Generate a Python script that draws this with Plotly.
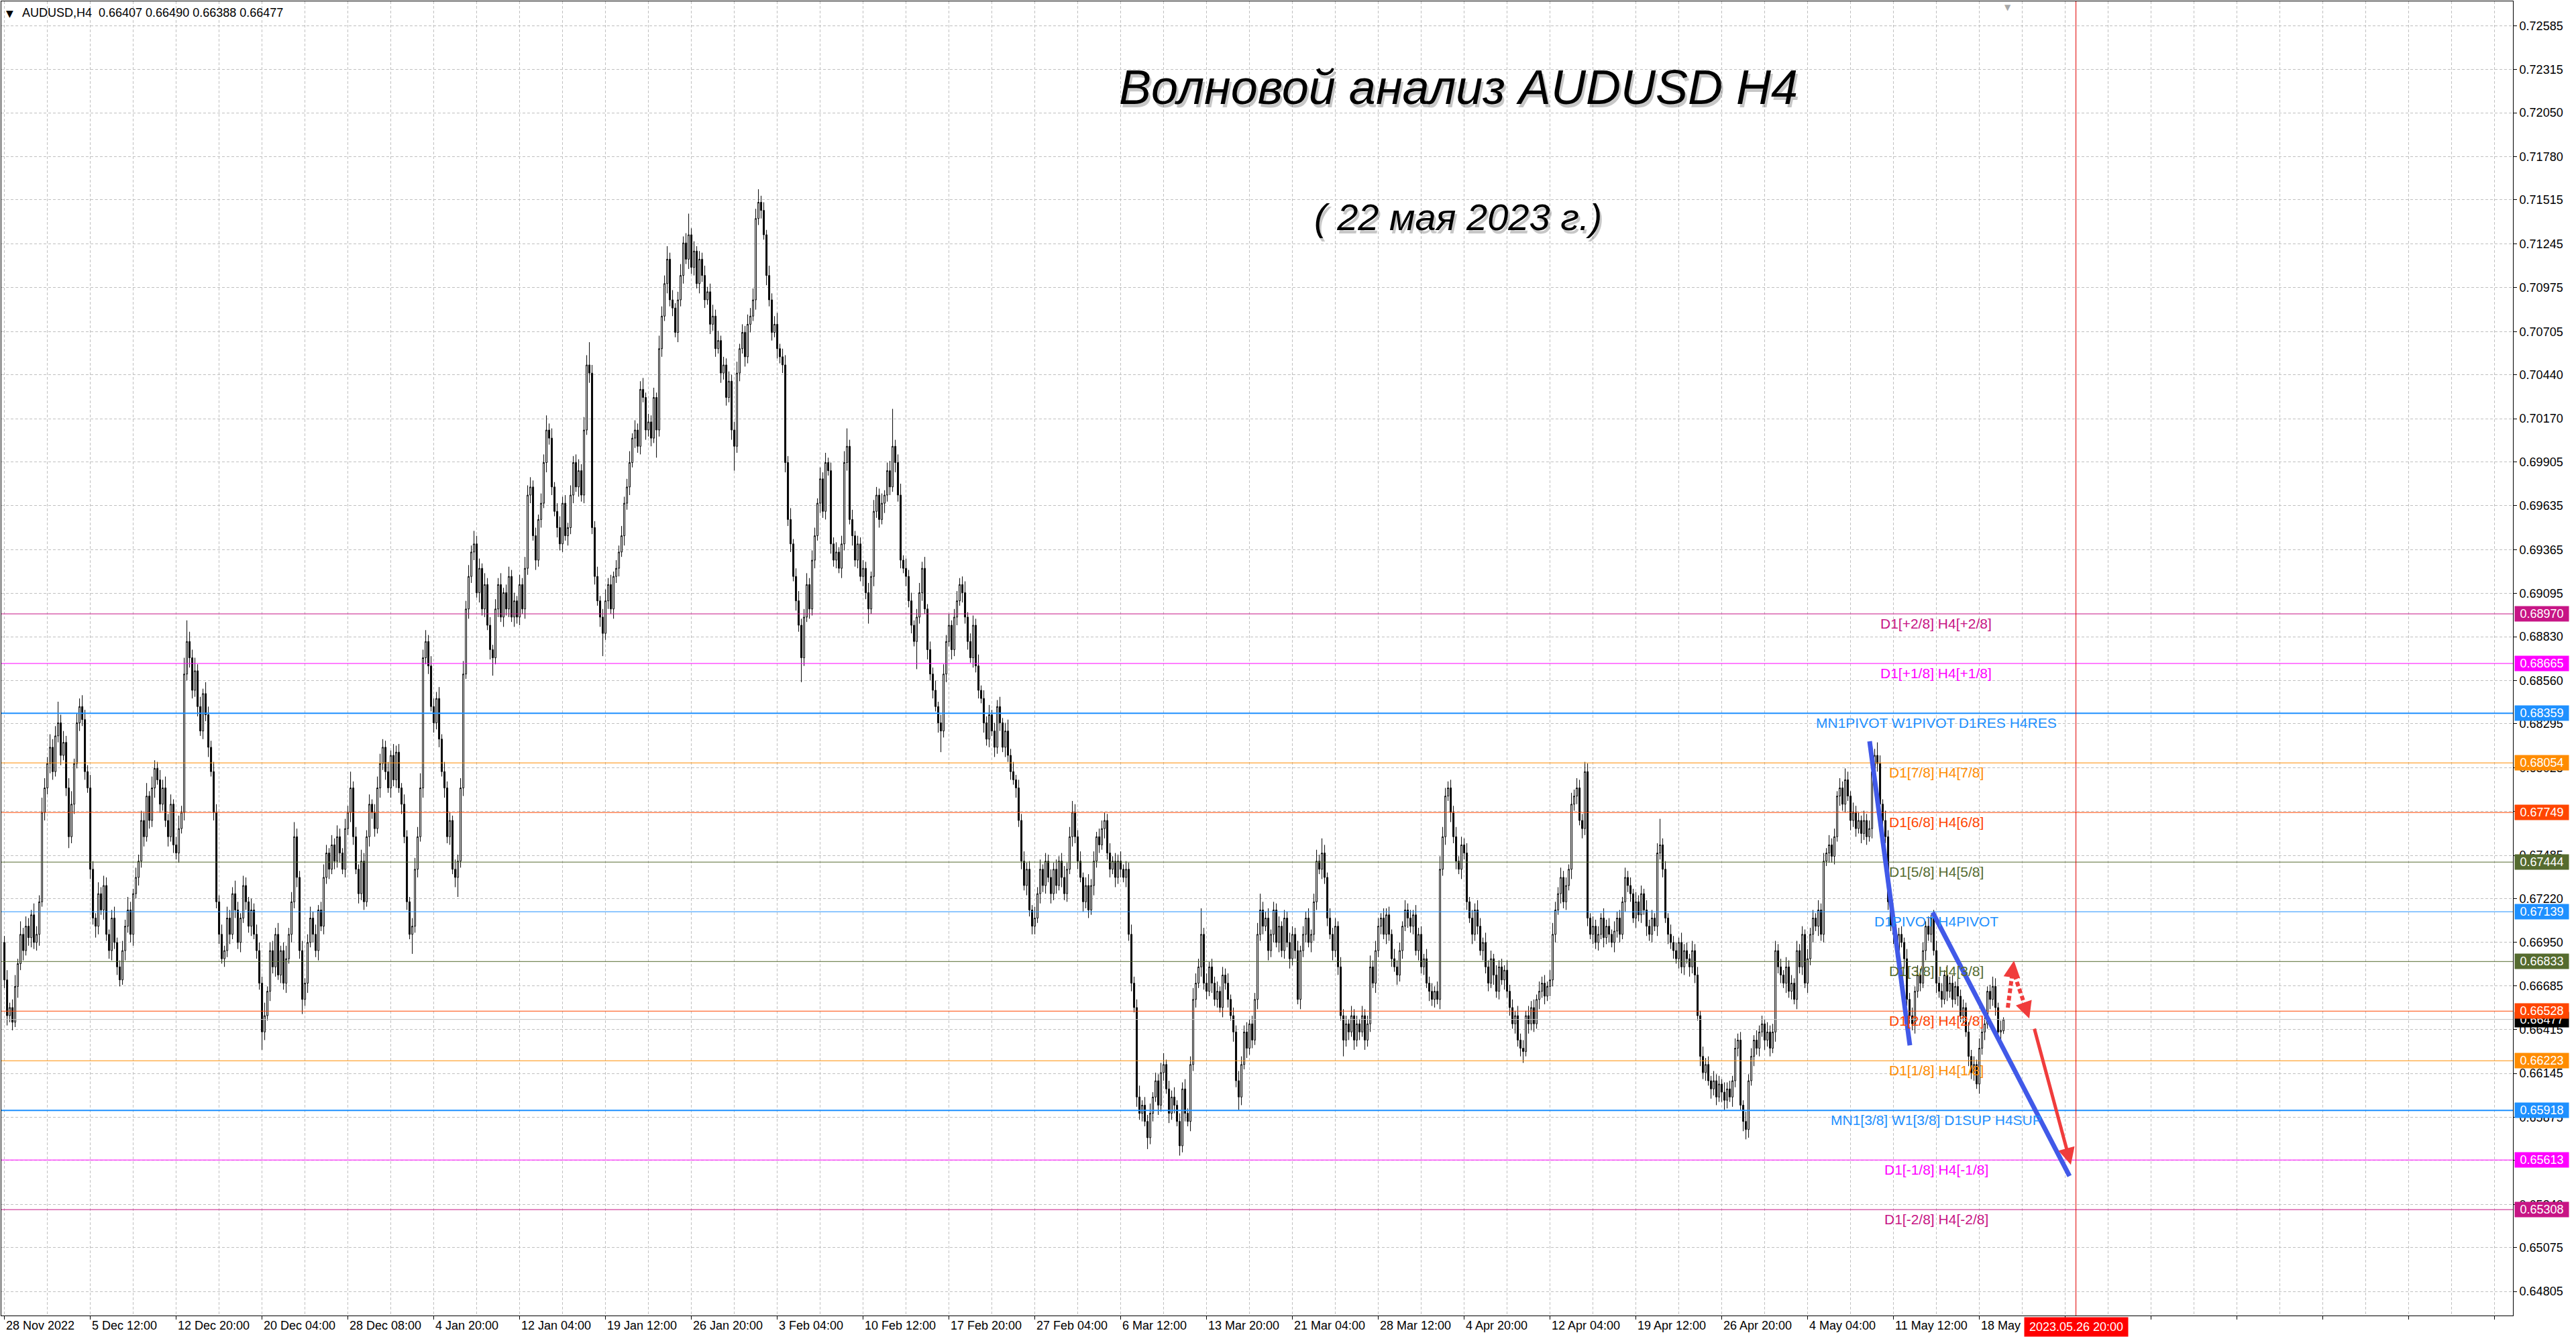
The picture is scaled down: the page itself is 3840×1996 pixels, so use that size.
import numpy as np
import plotly.graph_objects as go

# ---------------- data ----------------
symbol = "AUDUSD,H4"
last_bar_ohlc = [0.66407, 0.66490, 0.66388, 0.66477]
first_open_pips = 6695

close_pips = [
    6672, 6650, 6655, 6646, 6668, 6682, 6700, 6690, 6705, 6698,
    6712, 6695, 6700, 6720, 6775, 6790, 6805, 6815, 6800, 6822,
    6830, 6810, 6818, 6790, 6760, 6780, 6805, 6830, 6840, 6832,
    6800, 6790, 6740, 6710, 6705, 6725, 6715, 6730, 6700, 6690,
    6710, 6695, 6680, 6672, 6690, 6705, 6715, 6700, 6725, 6735,
    6745, 6770, 6760, 6785, 6770, 6790, 6802, 6795, 6780, 6790,
    6770, 6760, 6780, 6755, 6750, 6765, 6775, 6860, 6880, 6870,
    6850, 6862, 6840, 6825, 6848, 6835, 6815, 6800, 6775, 6720,
    6700, 6685, 6690, 6710, 6700, 6725, 6715, 6695, 6710, 6730,
    6720, 6705, 6715, 6700, 6690, 6670, 6640, 6650, 6665, 6690,
    6680, 6700, 6675, 6690, 6670, 6685, 6700, 6720, 6760, 6735,
    6690, 6660, 6670, 6695, 6710, 6700, 6690, 6715, 6705, 6735,
    6750, 6740, 6755, 6745, 6760, 6750, 6740, 6765, 6775, 6790,
    6760, 6740, 6725, 6745, 6720, 6760, 6780, 6775, 6765, 6790,
    6805, 6815, 6800, 6790, 6810, 6795, 6812, 6790, 6780, 6760,
    6720, 6700, 6705, 6740, 6760, 6790, 6870, 6880, 6865, 6840,
    6830, 6845, 6820, 6800, 6790, 6760, 6770, 6740, 6735, 6745,
    6790, 6860, 6900, 6920, 6935, 6940, 6910, 6925, 6900, 6915,
    6890, 6875, 6870, 6900, 6915, 6895, 6910, 6900, 6920, 6895,
    6905, 6895, 6915, 6900, 6925, 6970, 6975, 6945, 6930, 6955,
    6965, 6990, 7010, 7005, 6975, 6960, 6950, 6940, 6965, 6945,
    6950, 6970, 6990, 6975, 6985, 6970, 7010, 7050, 7045, 6950,
    6920, 6905, 6895, 6885, 6905, 6915, 6900, 6920, 6925, 6935,
    6945, 6965, 6975, 6990, 7005, 7010, 7000, 7035, 7030, 7010,
    7015, 7005, 7030, 7010, 7060, 7080, 7100, 7115, 7090, 7085,
    7070, 7090, 7105, 7125, 7115, 7130, 7110, 7120, 7100, 7115,
    7105, 7090, 7095, 7075, 7080, 7060, 7065, 7045, 7050, 7030,
    7040, 7010, 7000, 7045, 7060, 7070, 7055, 7075, 7080, 7090,
    7140, 7150, 7145, 7130, 7105, 7090, 7070, 7075, 7060, 7055,
    7050, 6990, 6955, 6940, 6920, 6905, 6890, 6870, 6895, 6915,
    6900, 6930, 6945, 6965, 6980, 6960, 6990, 6985, 6940, 6930,
    6935, 6925, 6940, 6990, 7000, 6955, 6945, 6930, 6940, 6920,
    6925, 6910, 6900, 6920, 6960, 6970, 6955, 6965, 6970, 6985,
    6975, 7000, 6990, 6970, 6930, 6925, 6920, 6905, 6890, 6880,
    6895, 6910, 6925, 6900, 6875, 6860, 6850, 6840, 6830, 6825,
    6860, 6880, 6890, 6875, 6895, 6905, 6915, 6910, 6895, 6880,
    6870, 6890, 6865, 6850, 6845, 6830, 6820, 6835, 6825, 6815,
    6840, 6830, 6815, 6825, 6810, 6800, 6795, 6790, 6770, 6745,
    6730, 6740, 6715, 6705, 6710, 6725, 6740, 6730, 6745, 6735,
    6725, 6740, 6730, 6745, 6735, 6725, 6740, 6760, 6775, 6760,
    6745, 6735, 6720, 6730, 6715, 6730, 6745, 6760, 6755, 6765,
    6770, 6750, 6740, 6745, 6735, 6745, 6740, 6735, 6740, 6700,
    6670, 6655, 6600, 6590, 6595, 6585, 6575, 6590, 6600, 6610,
    6595, 6615, 6620, 6605, 6590, 6600, 6595, 6585, 6570, 6605,
    6590, 6585, 6620, 6660, 6670, 6680, 6700, 6670, 6665, 6680,
    6670, 6660, 6665, 6655, 6675, 6670, 6660, 6650, 6640, 6610,
    6600, 6620, 6640, 6630, 6645, 6635, 6660, 6700, 6715, 6705,
    6710, 6690, 6700, 6715, 6695, 6705, 6690, 6710, 6695, 6685,
    6700, 6690, 6660, 6690, 6700, 6710, 6695, 6700, 6720, 6745,
    6740, 6750, 6735, 6710, 6700, 6690, 6705, 6680, 6650, 6635,
    6645, 6640, 6650, 6635, 6645, 6640, 6650, 6635, 6645, 6680,
    6670, 6690, 6705, 6710, 6700, 6712, 6700, 6685, 6680, 6675,
    6690, 6705, 6715, 6710, 6705, 6712, 6690, 6700, 6680, 6685,
    6670, 6665, 6660, 6665, 6660, 6740, 6760, 6785, 6790, 6775,
    6760, 6745, 6740, 6755, 6750, 6720, 6710, 6700, 6715, 6705,
    6690, 6695, 6680, 6670, 6685, 6675, 6665, 6680, 6672, 6678,
    6665, 6655, 6645, 6650, 6635, 6630, 6628, 6650, 6645, 6655,
    6645, 6660, 6665, 6670, 6662, 6668, 6672, 6700, 6715, 6725,
    6735, 6720, 6730, 6740, 6780, 6785, 6790, 6770, 6765, 6800,
    6710, 6700, 6705, 6695, 6700, 6710, 6698, 6705, 6700, 6695,
    6702, 6710, 6700, 6720, 6735, 6730, 6725, 6710, 6720, 6712,
    6725, 6715, 6705, 6700, 6710, 6705, 6750, 6755, 6740, 6710,
    6700, 6695, 6690, 6685, 6695, 6680, 6690, 6685, 6680, 6690,
    6675, 6650, 6625, 6615, 6620, 6610, 6605, 6610, 6600, 6608,
    6603, 6598, 6605, 6600, 6610, 6630, 6635, 6595, 6585, 6580,
    6610, 6625, 6635, 6630, 6640, 6645, 6635, 6640, 6630, 6640,
    6690, 6680, 6675, 6670, 6680, 6665, 6670, 6660, 6690, 6680,
    6700, 6670, 6685, 6700, 6710, 6705, 6715, 6700, 6745, 6750,
    6755, 6748, 6760, 6785, 6790, 6780, 6795, 6785, 6770, 6775,
    6765, 6770, 6762, 6770, 6760, 6765, 6800, 6810, 6805, 6780,
    6770, 6760, 6720, 6705, 6700, 6690, 6700, 6695, 6685, 6660,
    6650, 6645, 6665, 6675, 6670, 6690, 6705, 6700, 6710, 6690,
    6670, 6665, 6660, 6675, 6665, 6670, 6660, 6668, 6662, 6650,
    6655, 6640, 6625, 6615, 6620, 6608, 6630, 6640, 6645, 6665,
    6660, 6668, 6655, 6640, 6641,
]

upper_wick_pips = [
    4, 6, 3, 5, 7, 3, 8, 4, 6, 5,
    3, 7, 5, 4, 9, 6, 4, 8, 5, 6,
    13, 5, 7, 4, 6, 8, 3, 6, 5, 7,
    6, 4, 8, 5, 3, 7, 4, 6, 5, 3,
    5, 7, 3, 4, 6, 4, 8, 5, 3, 6,
    4, 6, 5, 8, 3, 7, 5, 4, 6, 5,
    7, 4, 6, 3, 5, 8, 4, 10, 13, 6,
    5, 8, 4, 6, 3, 7, 5, 4, 6, 5,
    4, 6, 3, 7, 5, 4, 8, 5, 3, 6,
    5, 3, 7, 4, 6, 5, 4, 8, 3, 5,
    6, 4, 7, 3, 5, 8, 4, 6, 9, 5,
    4, 6, 3, 5, 7, 4, 6, 3, 5, 8,
    5, 3, 6, 4, 7, 5, 3, 6, 4, 10,
    4, 6, 3, 7, 5, 4, 6, 3, 5, 7,
    6, 5, 4, 6, 3, 7, 4, 5, 3, 6,
    4, 3, 5, 7, 6, 9, 5, 7, 4, 6,
    5, 4, 7, 3, 6, 4, 5, 3, 6, 4,
    6, 8, 5, 7, 4, 8, 5, 6, 3, 7,
    4, 5, 3, 6, 4, 7, 3, 5, 6, 4,
    5, 3, 6, 4, 7, 6, 6, 4, 5, 3,
    6, 5, 9, 4, 6, 3, 5, 7, 4, 5,
    3, 6, 4, 5, 7, 4, 8, 6, 14, 5,
    4, 6, 3, 5, 7, 4, 6, 3, 5, 4,
    6, 4, 5, 7, 3, 6, 4, 5, 7, 3,
    5, 4, 6, 3, 8, 6, 5, 8, 4, 6,
    3, 5, 7, 4, 6, 13, 4, 6, 3, 5,
    4, 6, 3, 5, 7, 4, 6, 3, 5, 4,
    6, 4, 5, 7, 3, 5, 4, 6, 5, 7,
    6, 8, 4, 5, 3, 6, 4, 5, 7, 3,
    5, 6, 4, 7, 3, 5, 6, 4, 5, 7,
    4, 6, 5, 3, 7, 4, 6, 3, 5, 4,
    6, 3, 5, 7, 11, 4, 6, 3, 5, 4,
    5, 4, 6, 3, 7, 5, 4, 6, 3, 5,
    6, 23, 4, 5, 7, 3, 6, 4, 5, 3,
    5, 6, 4, 7, 3, 5, 4, 6, 3, 5,
    6, 4, 7, 3, 5, 6, 4, 5, 7, 3,
    5, 6, 4, 7, 3, 5, 4, 6, 3, 5,
    4, 6, 3, 5, 7, 4, 6, 3, 5, 4,
    6, 4, 5, 3, 7, 4, 6, 3, 5, 4,
    5, 4, 6, 3, 5, 7, 4, 6, 7, 5,
    4, 6, 3, 5, 7, 4, 6, 3, 5, 5,
    5, 4, 6, 3, 5, 4, 6, 3, 5, 4,
    6, 4, 5, 7, 3, 5, 4, 6, 3, 5,
    4, 6, 7, 3, 5, 4, 6, 3, 5, 4,
    6, 3, 5, 7, 6, 5, 16, 4, 6, 3,
    5, 4, 6, 3, 5, 4, 6, 3, 5, 4,
    6, 5, 4, 6, 3, 5, 4, 7, 10, 5,
    4, 6, 3, 5, 4, 6, 3, 5, 4, 6,
    5, 4, 6, 3, 5, 4, 6, 3, 5, 7,
    4, 9, 5, 3, 6, 4, 5, 3, 6, 4,
    5, 3, 6, 4, 5, 3, 6, 4, 5, 7,
    4, 6, 5, 3, 6, 4, 5, 3, 6, 4,
    5, 3, 6, 4, 5, 3, 6, 4, 5, 3,
    6, 4, 5, 3, 6, 8, 6, 5, 4, 5,
    4, 6, 3, 5, 4, 6, 3, 5, 4, 6,
    5, 3, 6, 4, 5, 3, 6, 4, 5, 3,
    6, 4, 5, 3, 6, 4, 5, 3, 6, 4,
    5, 3, 6, 4, 5, 3, 6, 7, 5, 4,
    6, 4, 5, 3, 7, 4, 6, 5, 4, 6,
    5, 3, 6, 4, 5, 3, 6, 4, 5, 3,
    6, 4, 5, 3, 6, 4, 5, 3, 6, 4,
    5, 3, 6, 4, 5, 3, 6, 16, 4, 5,
    3, 6, 4, 5, 3, 6, 4, 5, 3, 6,
    4, 5, 3, 6, 4, 5, 3, 6, 4, 5,
    3, 6, 4, 5, 3, 6, 4, 5, 3, 6,
    4, 5, 3, 6, 4, 5, 3, 6, 4, 5,
    6, 4, 5, 3, 6, 4, 5, 3, 6, 4,
    5, 3, 6, 4, 5, 3, 6, 4, 5, 3,
    6, 4, 5, 3, 6, 4, 7, 5, 3, 6,
    4, 5, 3, 6, 4, 5, 6, 4, 8, 5,
    3, 6, 4, 5, 3, 6, 4, 5, 3, 6,
    4, 5, 3, 6, 4, 5, 3, 6, 2, 5,
    6, 4, 5, 3, 6, 4, 5, 3, 6, 4,
    5, 3, 6, 4, 5, 3, 6, 4, 5, 3,
    4, 6, 5, 3, 6,
]

lower_wick_pips = [
    5, 6, 4, 5, 3, 7, 4, 6, 3, 5,
    6, 4, 5, 7, 3, 5, 4, 6, 5, 3,
    4, 6, 3, 5, 7, 4, 6, 3, 5, 4,
    5, 3, 6, 4, 7, 5, 3, 6, 4, 5,
    6, 4, 5, 4, 3, 6, 4, 5, 7, 3,
    5, 4, 6, 3, 5, 4, 6, 3, 5, 4,
    4, 6, 3, 5, 4, 6, 3, 5, 4, 6,
    5, 4, 6, 3, 5, 4, 6, 3, 5, 4,
    6, 3, 5, 4, 6, 3, 5, 4, 6, 3,
    5, 4, 6, 3, 5, 4, 11, 5, 3, 6,
    4, 6, 3, 5, 4, 6, 3, 5, 4, 6,
    5, 9, 4, 6, 3, 5, 4, 6, 3, 5,
    4, 6, 3, 5, 4, 6, 3, 5, 4, 6,
    5, 3, 6, 4, 5, 3, 6, 4, 5, 3,
    6, 4, 5, 3, 6, 4, 5, 3, 6, 4,
    5, 3, 12, 4, 5, 3, 6, 4, 5, 3,
    6, 4, 5, 3, 6, 4, 5, 3, 6, 12,
    4, 5, 3, 6, 4, 5, 3, 6, 4, 5,
    3, 6, 11, 4, 5, 3, 6, 4, 5, 3,
    6, 4, 5, 3, 6, 4, 5, 3, 6, 4,
    5, 3, 6, 4, 5, 3, 6, 4, 5, 3,
    6, 4, 5, 3, 6, 4, 5, 3, 6, 4,
    5, 3, 6, 14, 4, 5, 3, 6, 4, 5,
    3, 6, 4, 5, 3, 6, 4, 5, 3, 6,
    4, 5, 3, 17, 4, 5, 3, 6, 4, 5,
    3, 6, 4, 5, 3, 6, 4, 5, 3, 6,
    4, 5, 3, 6, 4, 5, 3, 6, 4, 5,
    3, 6, 15, 4, 5, 3, 6, 4, 5, 3,
    6, 4, 5, 3, 6, 4, 5, 3, 6, 4,
    5, 6, 4, 5, 3, 6, 4, 15, 5, 3,
    6, 4, 5, 3, 6, 4, 5, 3, 6, 4,
    5, 3, 6, 4, 5, 3, 6, 4, 5, 3,
    6, 4, 9, 3, 6, 4, 5, 3, 6, 4,
    5, 3, 6, 4, 5, 3, 6, 4, 5, 3,
    17, 4, 5, 3, 6, 4, 5, 3, 6, 13,
    4, 5, 3, 6, 4, 5, 3, 6, 4, 5,
    3, 6, 4, 5, 3, 6, 4, 5, 3, 6,
    4, 5, 3, 6, 4, 5, 3, 6, 4, 5,
    3, 6, 4, 5, 5, 3, 6, 4, 5, 3,
    6, 4, 5, 3, 6, 4, 5, 3, 6, 4,
    5, 3, 6, 4, 5, 3, 6, 4, 5, 3,
    6, 4, 5, 3, 6, 4, 5, 3, 6, 4,
    5, 3, 6, 4, 5, 3, 7, 4, 5, 3,
    6, 4, 5, 3, 6, 4, 5, 3, 6, 4,
    5, 3, 6, 4, 5, 3, 6, 4, 5, 3,
    6, 4, 5, 3, 6, 4, 5, 3, 6, 4,
    8, 5, 3, 6, 4, 5, 3, 6, 4, 5,
    3, 6, 4, 5, 3, 6, 4, 5, 3, 6,
    4, 5, 3, 6, 4, 5, 3, 6, 4, 5,
    3, 6, 4, 5, 3, 6, 4, 5, 3, 10,
    4, 5, 3, 6, 4, 5, 3, 6, 4, 5,
    3, 6, 4, 5, 3, 6, 4, 5, 3, 6,
    4, 5, 3, 6, 4, 5, 3, 6, 4, 5,
    3, 6, 4, 5, 3, 6, 4, 5, 3, 6,
    4, 5, 3, 6, 4, 5, 3, 6, 4, 5,
    3, 6, 4, 5, 3, 6, 4, 5, 3, 6,
    4, 5, 3, 6, 4, 5, 7, 3, 6, 4,
    5, 3, 6, 4, 5, 3, 6, 4, 5, 3,
    6, 4, 5, 3, 6, 4, 5, 3, 6, 4,
    5, 3, 6, 4, 5, 3, 6, 4, 5, 3,
    6, 4, 5, 3, 6, 4, 5, 3, 6, 4,
    5, 3, 6, 4, 5, 3, 6, 4, 5, 3,
    6, 4, 5, 3, 6, 4, 5, 3, 6, 4,
    5, 3, 6, 4, 5, 3, 6, 4, 5, 3,
    6, 6, 5, 3, 6, 4, 5, 3, 6, 6,
    5, 3, 6, 4, 5, 3, 6, 4, 5, 3,
    6, 4, 5, 3, 6, 4, 5, 3, 6, 4,
    5, 3, 6, 4, 5, 3, 6, 4, 5, 3,
    6, 4, 5, 3, 6, 4, 5, 3, 6, 4,
    5, 3, 6, 4, 5, 3, 6, 4, 5, 3,
    6, 4, 5, 3, 6, 4, 5, 3, 6, 4,
    5, 4, 6, 4, 5, 3, 6, 4, 5, 3,
    6, 4, 5, 3, 6, 4, 5, 3, 6, 4,
    5, 3, 6, 4, 5, 3, 6, 4, 5, 3,
    6, 4, 5, 3, 6,
]

date_labels = ["28 Nov 2022", "5 Dec 12:00", "12 Dec 20:00", "20 Dec 04:00", "28 Dec 08:00",
               "4 Jan 20:00", "12 Jan 04:00", "19 Jan 12:00", "26 Jan 20:00", "3 Feb 04:00",
               "10 Feb 12:00", "17 Feb 20:00", "27 Feb 04:00", "6 Mar 12:00", "13 Mar 20:00",
               "21 Mar 04:00", "28 Mar 12:00", "4 Apr 20:00", "12 Apr 04:00", "19 Apr 12:00",
               "26 Apr 20:00", "4 May 04:00", "11 May 12:00", "18 May"]
date_label_bars = [0, 32, 64, 96, 128, 160, 192, 224, 256, 288, 320, 352, 384, 416,
                   448, 480, 512, 544, 576, 608, 640, 672, 704, 736]

price_ticks = [0.72585, 0.72315, 0.72050, 0.71780, 0.71515, 0.71245, 0.70975, 0.70705,
               0.70440, 0.70170, 0.69905, 0.69635, 0.69365, 0.69095, 0.68830, 0.68560,
               0.68295, 0.68025, 0.67755, 0.67485, 0.67220, 0.66950, 0.66685, 0.66415,
               0.66145, 0.65875, 0.65610, 0.65340, 0.65075, 0.64805]

level_prices = [0.68970, 0.68665, 0.68359, 0.68054, 0.67749, 0.67444, 0.67139,
                0.66833, 0.66528, 0.66223, 0.65918, 0.65613, 0.65308]
level_names = ["D1[+2/8] H4[+2/8]", "D1[+1/8] H4[+1/8]", "MN1PIVOT W1PIVOT D1RES H4RES",
               "D1[7/8] H4[7/8]", "D1[6/8] H4[6/8]", "D1[5/8] H4[5/8]", "D1PIVOT H4PIVOT",
               "D1[3/8] H4[3/8]", "D1[2/8] H4[2/8]", "D1[1/8] H4[1/8]",
               "MN1[3/8] W1[3/8] D1SUP H4SUP", "D1[-1/8] H4[-1/8]", "D1[-2/8] H4[-2/8]"]
level_colors = ["#C71585", "#FF00FF", "#1E90FF", "#FF8C00", "#FF4500", "#556B2F", "#1E90FF",
                "#556B2F", "#FF4500", "#FF8C00", "#1E90FF", "#FF00FF", "#C71585"]
level_widths = [1, 1, 2, 1, 1, 1, 1, 1, 1, 1, 2, 1, 1]

future_bar = 772
future_label = "2023.05.26 20:00"

trend1_bars, trend1_prices = [695.1, 710.1], [0.68187, 0.66318]
trend2_bars, trend2_prices = [718.6, 769.6], [0.67135, 0.65514]
red_arrow_bars, red_arrow_prices = [756.4, 770.1], [0.66426, 0.65584]
dot_up_bars, dot_up_prices = [746.6, 748.9], [0.66549, 0.66838]
dot_dn_bars, dot_dn_prices = [749.1, 754.6], [0.66751, 0.66483]

title_text = "Волновой анализ AUDUSD H4"
subtitle_text = "( 22 мая 2023 г.)"

# ---------------- build candles ----------------
n = min(len(close_pips), len(upper_wick_pips), len(lower_wick_pips))
c = np.array(close_pips[:n]) / 10000.0
o = np.concatenate([[first_open_pips / 10000.0], c[:-1]])
h = np.maximum(o, c) + np.array(upper_wick_pips[:n]) / 10000.0
l = np.minimum(o, c) - np.array(lower_wick_pips[:n]) / 10000.0
o = np.append(o, last_bar_ohlc[0])
h = np.append(h, last_bar_ohlc[1])
l = np.append(l, last_bar_ohlc[2])
c = np.append(c, last_bar_ohlc[3])
bars = np.arange(len(c))

AXF = "Liberation Sans, Arial, sans-serif"
X_MIN, X_MAX = -1.15, 934.85
Y_MIN, Y_MAX = 0.64657, 0.72735
GRID = "#C0C0C0"
RED = "#F03C3C"
BLUE = "#4159E8"

fig = go.Figure()
fig.add_trace(go.Candlestick(
    x=bars, open=o, high=h, low=l, close=c,
    increasing=dict(line=dict(color="black", width=1), fillcolor="white"),
    decreasing=dict(line=dict(color="black", width=1), fillcolor="black"),
    whiskerwidth=0, hoverinfo="skip", showlegend=False))

# bid line
fig.add_trace(go.Scatter(x=[X_MIN - 5, X_MAX + 5], y=[last_bar_ohlc[3]] * 2, mode="lines",
                         line=dict(color="#C0C0C0", width=1), hoverinfo="skip", showlegend=False))
# level lines
for p, col, w in zip(level_prices, level_colors, level_widths):
    fig.add_trace(go.Scatter(x=[X_MIN - 5, X_MAX + 5], y=[p, p], mode="lines",
                             line=dict(color=col, width=w), hoverinfo="skip", showlegend=False))

# trend lines
for bx, py in [(trend1_bars, trend1_prices), (trend2_bars, trend2_prices)]:
    fig.add_trace(go.Scatter(x=bx, y=py, mode="lines", line=dict(color=BLUE, width=7),
                             hoverinfo="skip", showlegend=False))

# dotted arrows (shaft)
for bx, py in [(dot_up_bars, dot_up_prices), (dot_dn_bars, dot_dn_prices)]:
    ex = bx[0] + 0.72 * (bx[1] - bx[0])
    ey = py[0] + 0.72 * (py[1] - py[0])
    fig.add_trace(go.Scatter(x=[bx[0], ex], y=[py[0], ey], mode="lines",
                             line=dict(color=RED, width=6, dash="7px,4px"),
                             hoverinfo="skip", showlegend=False))

ann = []
# header
ann.append(dict(xref="paper", yref="paper", x=0, y=1, xanchor="left", yanchor="middle",
                xshift=5, yshift=-18, text="▼", showarrow=False,
                font=dict(family="DejaVu Sans, sans-serif", size=14, color="black")))
ann.append(dict(xref="paper", yref="paper", x=0, y=1, xanchor="left", yanchor="middle",
                xshift=29, yshift=-17,
                text=symbol + "  " + " ".join(f"{v:.5f}" for v in last_bar_ohlc),
                showarrow=False, font=dict(family=AXF, size=18, color="black")))
# chart-shift marker
ann.append(dict(xref="paper", yref="paper", x=0.7989, y=1, xanchor="center", yanchor="top",
                yshift=0, text="▼", showarrow=False,
                font=dict(family="DejaVu Sans, sans-serif", size=12, color="#A8A8A8")))

# titles with soft shadows
TF = "Liberation Sans, Arial, sans-serif"
for txt, yy, sz in [(title_text, 0.9347, 72), (subtitle_text, 0.8361, 56)]:
    ann.append(dict(xref="paper", yref="paper", x=0.5801, y=yy, xanchor="center", yanchor="middle",
                    xshift=3, yshift=-5, text=f"<i>{txt}</i>", showarrow=False,
                    font=dict(family=TF, size=sz, color="rgba(0,0,0,0.22)")))
    ann.append(dict(xref="paper", yref="paper", x=0.5801, y=yy, xanchor="center", yanchor="middle",
                    text=f"<i>{txt}</i>", showarrow=False,
                    font=dict(family=TF, size=sz, color="black")))

# level text labels
for p, name, col in zip(level_prices, level_names, level_colors):
    ann.append(dict(xref="x", yref="y", x=719.85, y=p, xanchor="center", yanchor="top",
                    yshift=-1, text=name, showarrow=False,
                    font=dict(family=AXF, size=21, color=col)))

# date labels
for b, t in zip(date_label_bars, date_labels):
    ann.append(dict(xref="x", yref="paper", x=b, y=0, xanchor="left", yanchor="top",
                    xshift=0, yshift=-3, text=t, showarrow=False,
                    font=dict(family=AXF, size=18, color="black")))

# right-axis price boxes (current price first so the levels cover it)
ann.append(dict(xref="paper", yref="y", x=1, y=last_bar_ohlc[3], xanchor="left", yanchor="middle",
                xshift=2, text=f"{last_bar_ohlc[3]:.5f}", showarrow=False, bgcolor="black",
                width=78, height=20, borderpad=1, font=dict(family=AXF, size=18, color="white")))
for p, col in zip(level_prices, level_colors):
    ann.append(dict(xref="paper", yref="y", x=1, y=p, xanchor="left", yanchor="middle",
                    xshift=2, text=f"{p:.5f}", showarrow=False, bgcolor=col,
                    width=78, height=20, borderpad=1, font=dict(family=AXF, size=18, color="white")))

# future time label
ann.append(dict(xref="x", yref="paper", x=future_bar, y=0, xanchor="center", yanchor="top",
                yshift=-2, text=future_label, showarrow=False, bgcolor="#FF0000",
                width=152, height=26, borderpad=1, font=dict(family=AXF, size=18, color="white")))

# solid red arrow
ann.append(dict(xref="x", yref="y", axref="x", ayref="y",
                x=red_arrow_bars[1], y=red_arrow_prices[1],
                ax=red_arrow_bars[0], ay=red_arrow_prices[0],
                text="", showarrow=True, arrowhead=2, arrowsize=1, arrowwidth=5, arrowcolor=RED))
# dotted arrow heads
ann.append(dict(xref="x", yref="y", x=dot_up_bars[1], y=dot_up_prices[1], ax=-2.5, ay=20,
                text="", showarrow=True, arrowhead=2, arrowsize=1, arrowwidth=5, arrowcolor=RED))
ann.append(dict(xref="x", yref="y", x=dot_dn_bars[1], y=dot_dn_prices[1], ax=-6.6, ay=-19,
                text="", showarrow=True, arrowhead=2, arrowsize=1, arrowwidth=5, arrowcolor=RED))

shapes = [dict(type="line", xref="x", yref="paper", x0=future_bar, x1=future_bar, y0=0, y1=1,
               line=dict(color="#E00000", width=1))]

major_x = list(range(0, 935, 32))
minor_x = list(range(16, 935, 32))

fig.update_layout(
    width=3840, height=1996, autosize=False,
    margin=dict(l=2, r=94, t=2, b=35, pad=0),
    paper_bgcolor="white", plot_bgcolor="white",
    showlegend=False, hovermode=False,
    annotations=ann, shapes=shapes,
    xaxis=dict(range=[X_MIN, X_MAX], rangeslider=dict(visible=False),
               tickmode="array", tickvals=major_x, showticklabels=False,
               ticks="outside", ticklen=5, tickcolor="black",
               showgrid=True, gridcolor=GRID, gridwidth=1, griddash="4px,3px",
               minor=dict(tickvals=minor_x, showgrid=True, gridcolor=GRID, griddash="4px,3px",
                          ticks=""),
               showline=True, linecolor="black", linewidth=1, mirror=True, zeroline=False,
               fixedrange=True),
    yaxis=dict(range=[Y_MIN, Y_MAX], side="right", tickmode="array",
               tickvals=price_ticks, ticktext=[f"{v:.5f}" for v in price_ticks],
               ticks="outside", ticklen=5, tickcolor="black",
               tickfont=dict(family=AXF, size=18, color="black"),
               showgrid=True, gridcolor=GRID, gridwidth=1, griddash="4px,3px",
               showline=True, linecolor="black", linewidth=1, mirror=True, zeroline=False,
               fixedrange=True),
)

fig.write_html("out.html", config={"displayModeBar": False, "staticPlot": True},
               post_script="document.body.style.margin='0';document.documentElement.style.overflow='hidden';")
